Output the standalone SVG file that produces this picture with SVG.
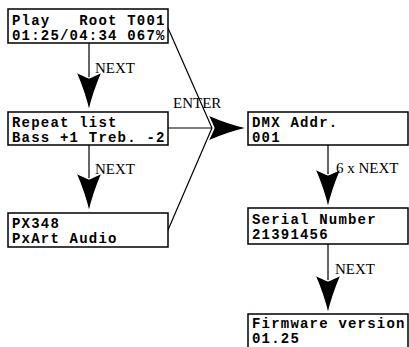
<svg xmlns="http://www.w3.org/2000/svg" width="409" height="347" viewBox="0 0 409 347">
<style>
.box{fill:#fff;stroke:#000;stroke-width:1.5}
.t{font-family:"Liberation Mono","Courier New",monospace;font-weight:bold;font-size:14px;letter-spacing:1.2px;fill:#000;white-space:pre}
.lbl{font-family:"Liberation Serif","Times New Roman",serif;font-size:15px;fill:#000}
.ln{stroke:#000;stroke-width:1.2;fill:none}
.ah{fill:#000;stroke:#fff;stroke-width:1.2}
</style>
<defs>
<path id="ah" d="M-13,-39 Q-5,-35 0,-33 Q5,-35 13,-39 Q4,-18 0,0 Q-4,-18 -13,-39 Z"/>
</defs>
<g id="connectors">
<line class="ln" x1="89" y1="43" x2="89" y2="78"/>
<use href="#ah" class="ah" transform="translate(89,111)"/>
<line class="ln" x1="89" y1="145" x2="89" y2="179"/>
<use href="#ah" class="ah" transform="translate(89,212)"/>
<line class="ln" x1="328" y1="145" x2="328" y2="175"/>
<use href="#ah" class="ah" transform="translate(328,208)"/>
<line class="ln" x1="328" y1="244" x2="328" y2="282"/>
<use href="#ah" class="ah" transform="translate(328,314)"/>
<polyline class="ln" points="168,28 212,128 168,230"/>
<line class="ln" x1="168" y1="128" x2="212" y2="128"/>
<use href="#ah" class="ah" transform="translate(247,128) rotate(-90)"/>
<text class="lbl" x="95" y="73">NEXT</text>
<text class="lbl" x="95" y="174">NEXT</text>
<text class="lbl" x="336" y="173">6 x NEXT</text>
<text class="lbl" x="335" y="274">NEXT</text>
<text class="lbl" x="173" y="108">ENTER</text>
</g>
<g id="play">
<rect class="box" x="8" y="9" width="160" height="34"/>
<text class="t" x="12" y="25">Play   Root T001</text>
<text class="t" x="12" y="40">01:25/04:34 067%</text>
</g>
<g id="repeat">
<rect class="box" x="8" y="112" width="160" height="33"/>
<text class="t" x="12" y="127">Repeat list</text>
<text class="t" x="12" y="142">Bass +1 Treb. -2</text>
</g>
<g id="px348">
<rect class="box" x="8" y="213" width="160" height="34"/>
<text class="t" x="12" y="228">PX348</text>
<text class="t" x="12" y="243">PxArt Audio</text>
</g>
<g id="dmx">
<rect class="box" x="248" y="112" width="160" height="33"/>
<text class="t" x="252" y="127">DMX Addr.</text>
<text class="t" x="252" y="142">001</text>
</g>
<g id="serial">
<rect class="box" x="248" y="208" width="160" height="36"/>
<text class="t" x="252" y="224">Serial Number</text>
<text class="t" x="252" y="239">21391456</text>
</g>
<g id="firmware">
<rect class="box" x="248" y="314" width="160" height="38"/>
<text class="t" x="252" y="328">Firmware version</text>
<text class="t" x="252" y="343">01.25</text>
</g>
</svg>
